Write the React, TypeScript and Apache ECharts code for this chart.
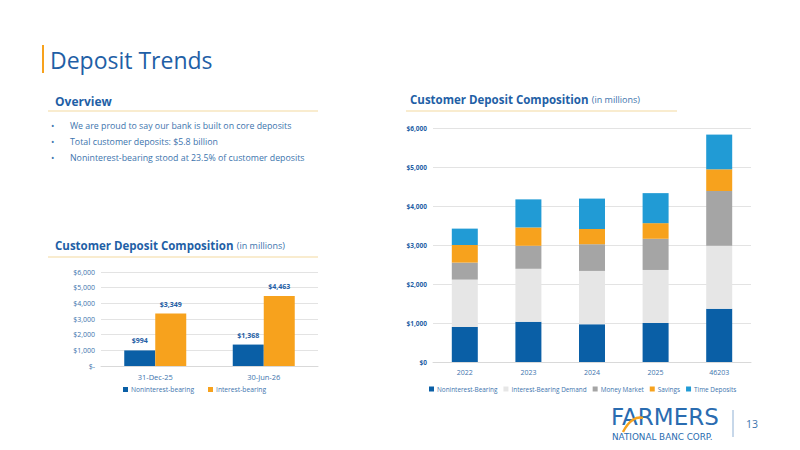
import React, { useEffect, useRef } from "react";
import * as echarts from "echarts";

// Left chart: noninterest vs interest-bearing deposits (millions)
const periods = ["31-Dec-25", "30-Jun-26"];
const nonInterestBearing = [994, 1368];
const interestBearing = [3349, 4463];

// Right chart: customer deposit composition by year (millions)
const years = ["2022", "2023", "2024", "2025", "46203"];
const nibByYear = [900, 1030, 965, 1000, 1368];
const ibDemand = [1213, 1360, 1370, 1360, 1614];
const moneyMarket = [436, 590, 685, 800, 1403];
const savings = [451, 470, 390, 400, 556];
const timeDeposits = [420, 720, 780, 770, 890];

const bullets = [
  "We are proud to say our bank is built on core deposits",
  "Total customer deposits: $5.8 billion",
  "Noninterest-bearing stood at 23.5% of customer deposits",
];

const FONT = "'Open Sans', 'Noto Sans', sans-serif";
const LOGO_FONT = "'DejaVu Sans', sans-serif";
const BLUE = "#1f5fa6";
const TEXT_BLUE = "#3d74ad";
const NAVY = "#0a5fa6";
const ORANGE = "#f7a21d";
const RULE = "#f3d9a0";

const money = (v: number) => "$" + v.toLocaleString("en-US");

export default function App() {
  const ref = useRef<HTMLDivElement>(null);

  useEffect(() => {
    const chart = echarts.init(ref.current!, null, { renderer: "svg" });

    const bulletGraphics = bullets.flatMap((t, i) => [
      {
        type: "text",
        left: 51,
        top: 121 + i * 16,
        style: { text: "•", fill: TEXT_BLUE, font: `9px ${FONT}` },
      },
      {
        type: "text",
        left: 70,
        top: 121 + i * 16,
        style: { text: t, fill: TEXT_BLUE, font: `8.8px ${FONT}` },
      },
    ]);

    const sectionTitle = (left: number, top: number) => ({
      type: "text",
      left,
      top,
      style: {
        text: "{b|Customer Deposit Composition} {n|(in millions)}",
        rich: {
          b: { fill: BLUE, font: `bold 11.5px ${FONT}` },
          n: { fill: TEXT_BLUE, font: `9px ${FONT}` },
        },
      },
    });

    const legendText = { color: TEXT_BLUE, fontFamily: FONT, padding: [0, 0, 0, -2] };

    chart.setOption({
      animation: false,
      backgroundColor: "#ffffff",
      textStyle: { fontFamily: FONT },
      graphic: [
        { type: "rect", shape: { x: 42, y: 45, width: 2, height: 28 }, style: { fill: ORANGE } },
        {
          type: "text",
          left: 50,
          top: 48,
          style: { text: "Deposit Trends", fill: BLUE, font: `23px ${FONT}` },
        },
        {
          type: "text",
          left: 55,
          top: 95,
          style: { text: "Overview", fill: BLUE, font: `bold 12px ${FONT}` },
        },
        { type: "line", shape: { x1: 48, y1: 111, x2: 318, y2: 111 }, style: { stroke: RULE, lineWidth: 1.2 } },
        ...bulletGraphics,
        sectionTitle(55, 239),
        { type: "line", shape: { x1: 48, y1: 257, x2: 318, y2: 257 }, style: { stroke: RULE, lineWidth: 1.2 } },
        sectionTitle(410, 93),
        { type: "line", shape: { x1: 406, y1: 111, x2: 677, y2: 111 }, style: { stroke: RULE, lineWidth: 1.2 } },
        // Company mark
        {
          type: "text",
          left: 611,
          top: 405,
          style: { text: "FARMERS", fill: "#2a6cb0", font: `23px ${LOGO_FONT}` },
        },
        {
          type: "bezierCurve",
          shape: { x1: 623, y1: 432, x2: 643, y2: 418, cpx1: 629, cpy1: 420, cpx2: 637, cpy2: 416 },
          style: { stroke: ORANGE, lineWidth: 2.5, fill: "none" },
        },
        {
          type: "text",
          left: 612,
          top: 432,
          style: { text: "NATIONAL BANC CORP.", fill: "#2a6cb0", font: `8.8px ${LOGO_FONT}` },
        },
        { type: "line", shape: { x1: 733, y1: 410, x2: 733, y2: 437 }, style: { stroke: "#8fb0d4", lineWidth: 1 } },
        {
          type: "text",
          left: 746,
          top: 418,
          style: { text: "13", fill: TEXT_BLUE, font: `10.5px ${FONT}` },
        },
      ],
      legend: [
        {
          data: ["Noninterest-bearing", "Interest-bearing"],
          left: 118,
          top: 381,
          itemWidth: 5,
          itemHeight: 5,
          itemGap: 14,
          icon: "rect",
          textStyle: { ...legendText, fontSize: 6.7 },
        },
        {
          data: ["Noninterest-Bearing", "Interest-Bearing Demand", "Money Market", "Savings", "Time Deposits"],
          left: 424,
          top: 381,
          itemWidth: 5,
          itemHeight: 5,
          itemGap: 6,
          icon: "rect",
          textStyle: { ...legendText, fontSize: 6.4 },
        },
      ],
      grid: [
        { left: 101, right: 482, top: 272, bottom: 84 },
        { left: 433, right: 49, top: 128, bottom: 88 },
      ],
      xAxis: [
        {
          type: "category",
          gridIndex: 0,
          data: periods,
          axisTick: { show: false },
          axisLine: { lineStyle: { color: "#d9d9d9" } },
          axisLabel: { fontSize: 7.5, color: TEXT_BLUE, margin: 7 },
        },
        {
          type: "category",
          gridIndex: 1,
          data: years,
          axisTick: { show: false },
          axisLine: { lineStyle: { color: "#d9d9d9" } },
          axisLabel: { fontSize: 7, color: TEXT_BLUE, margin: 7 },
        },
      ],
      yAxis: [
        {
          type: "value",
          gridIndex: 0,
          min: 0,
          max: 6000,
          interval: 1000,
          splitLine: { lineStyle: { color: "#e3e3e3" } },
          axisLabel: {
            fontSize: 7,
            color: TEXT_BLUE,
            margin: 6,
            formatter: (v: number) => (v === 0 ? "$-" : money(v)),
          },
        },
        {
          type: "value",
          gridIndex: 1,
          min: 0,
          max: 6000,
          interval: 1000,
          splitLine: { lineStyle: { color: "#e3e3e3" } },
          axisLabel: {
            fontSize: 6.5,
            fontWeight: "bold",
            color: BLUE,
            margin: 6,
            formatter: (v: number) => money(v),
          },
        },
      ],
      series: [
        {
          name: "Noninterest-bearing",
          type: "bar",
          xAxisIndex: 0,
          yAxisIndex: 0,
          data: nonInterestBearing,
          barWidth: 31,
          barGap: "0%",
          itemStyle: { color: NAVY },
          label: {
            show: true,
            position: "top",
            distance: 6,
            fontSize: 7,
            fontWeight: "bold",
            color: BLUE,
            formatter: (p: any) => money(p.value),
          },
        },
        {
          name: "Interest-bearing",
          type: "bar",
          xAxisIndex: 0,
          yAxisIndex: 0,
          data: interestBearing,
          barWidth: 31,
          barGap: "0%",
          itemStyle: { color: ORANGE },
          label: {
            show: true,
            position: "top",
            distance: 6,
            fontSize: 7,
            fontWeight: "bold",
            color: BLUE,
            formatter: (p: any) => money(p.value),
          },
        },
        ...[
          ["Noninterest-Bearing", nibByYear, NAVY],
          ["Interest-Bearing Demand", ibDemand, "#e6e6e6"],
          ["Money Market", moneyMarket, "#a5a5a5"],
          ["Savings", savings, ORANGE],
          ["Time Deposits", timeDeposits, "#219bd5"],
        ].map(([name, data, color]) => ({
          name,
          type: "bar",
          xAxisIndex: 1,
          yAxisIndex: 1,
          stack: "composition",
          barWidth: 26,
          data,
          itemStyle: { color },
        })),
      ],
    });

    return () => chart.dispose();
  }, []);

  return (
    <div
      ref={ref}
      style={{ position: "fixed", left: 0, top: 0, width: 800, height: 450 }}
    />
  );
}
